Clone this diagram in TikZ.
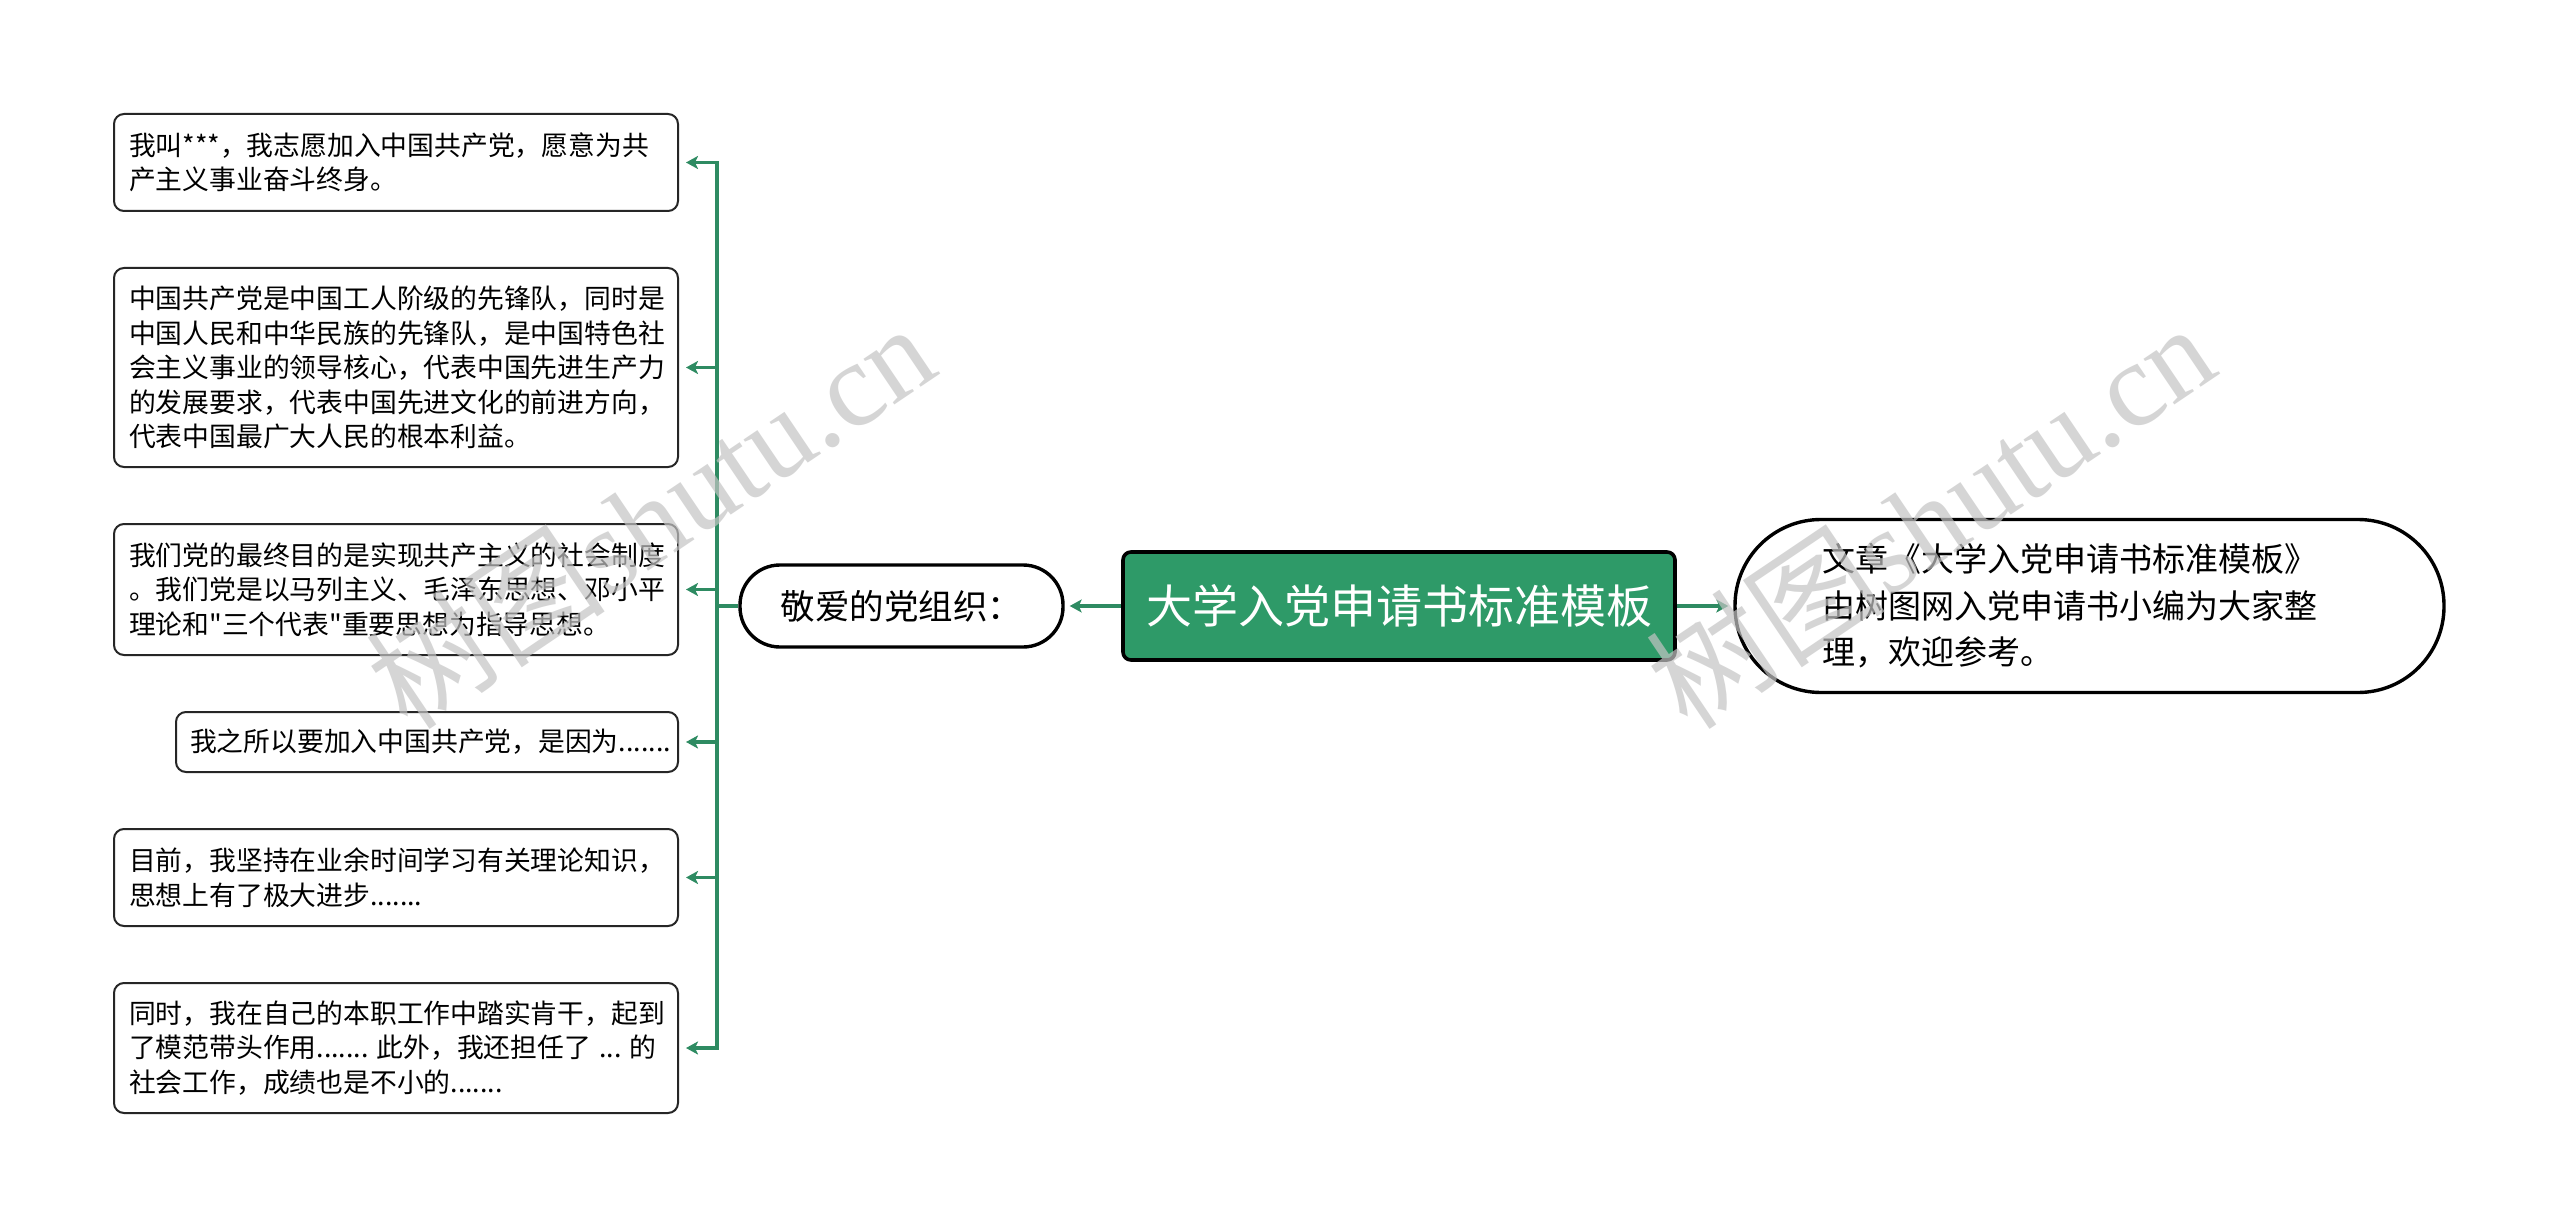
\documentclass[tikz,border=0pt]{standalone}
\usepackage{fontspec}
\setmainfont{Noto Sans CJK SC}
\newfontfamily\qfont{Noto Sans CJK SC}
\newfontfamily\wmserif{Liberation Serif}
\usetikzlibrary{arrows.meta}
\definecolor{cgreen}{HTML}{2E8B62}
\definecolor{mgreen}{HTML}{2E9A68}
\definecolor{wmgrey}{HTML}{C4C4C4}
\newcommand{\myspc}{\hspace{0.3em}}
\newcommand{\dq}{{\qfont"}}
\begin{document}
\begin{tikzpicture}[x=0.5pt,y=-0.5pt,
  leaf/.style={draw=black!85, line width=1pt, rounded corners=5pt, fill=white,
    align=left, text width=267pt, inner xsep=7.5pt, inner ysep=0pt,
    minimum width=282pt, font=\fontsize{13.4pt}{17.2pt}\selectfont, anchor=center},
  mainbox/.style={draw=black, line width=1.8pt, rounded corners=4pt, fill=mgreen,
    text=white, minimum width=276pt, minimum height=54pt, inner sep=0pt,
    font=\fontsize{23pt}{28pt}\selectfont},
  subbox/.style={draw=black, line width=1.7pt, rounded corners=20pt, fill=white,
    minimum width=161.5pt, minimum height=41pt, inner sep=0pt,
    font=\fontsize{17.25pt}{21pt}\selectfont},
  notebox/.style={draw=black, line width=1.7pt, rounded corners=43pt, fill=white,
    minimum width=354.5pt, minimum height=86.5pt, inner xsep=43.5pt, inner ysep=0pt,
    text width=267.5pt, align=left, font=\fontsize{16.5pt}{23.25pt}\selectfont},
  conn/.style={draw=cgreen, line width=1.6pt},
  arr/.style={conn, -{Stealth[length=6pt,width=6.5pt,inset=1.5pt]}, shorten >=3.5pt},
  wm/.style={text=wmgrey, opacity=0.7, rotate=34, inner sep=0pt}
]
\useasboundingbox (0,0) rectangle (2560,1230);
\fill[white] (0,0) rectangle (2560,1230);

% main and side nodes
\node[mainbox] (main) at (1399,606) {大学入党申请书标准模板};
\node[subbox] (org) at (901.5,606) {敬爱的党组织：};
\node[notebox] (note) at (2089.5,606) {文章《大学入党申请书标准模板》\\由树图网入党申请书小编为大家整\\理，欢迎参考。};

% leaf boxes
\node[leaf, minimum height=48.5pt] (b1) at (396,162.5) {我叫***，我志愿加入中国共产党，愿意为共\\产主义事业奋斗终身。};
\node[leaf, minimum height=99.5pt] (b2) at (396,367.5) {中国共产党是中国工人阶级的先锋队，同时是\\中国人民和中华民族的先锋队，是中国特色社\\会主义事业的领导核心，代表中国先进生产力\\的发展要求，代表中国先进文化的前进方向，\\代表中国最广大人民的根本利益。};
\node[leaf, minimum height=65.5pt] (b3) at (396,589.5) {我们党的最终目的是实现共产主义的社会制度\\。我们党是以马列主义、毛泽东思想、邓小平\\理论和\dq 三个代表\dq 重要思想为指导思想。};
\node[leaf, minimum height=30pt, minimum width=251pt, text width=237pt, inner xsep=7pt] (b4) at (427,742) {我之所以要加入中国共产党，是因为.......};
\node[leaf, minimum height=48.5pt] (b5) at (396,877.5) {目前，我坚持在业余时间学习有关理论知识，\\思想上有了极大进步.......};
\node[leaf, minimum height=65pt] (b6) at (396,1048) {同时，我在自己的本职工作中踏实肯干，起到\\\mbox{了模范带头作用.......\myspc 此外，我还担任了\myspc...\myspc 的}\\社会工作，成绩也是不小的.......};

% connectors
\draw[arr, shorten >=2.5pt] (main.west) -- (org.east);
\draw[arr, shorten >=2.5pt] (main.east) -- (note.west);
\coordinate (trunk) at (717,606);
\draw[conn] (org.west) -- (trunk);
\foreach \b in {b1,b2,b3,b4,b5,b6}{
  \draw[arr] (trunk) |- (\b.east);
}

% watermarks
\node[wm, font=\fontsize{60pt}{62pt}\selectfont] (wm1) at (650,515) {树图{\wmserif shutu.cn}};
\node[wm, font=\fontsize{60pt}{62pt}\selectfont] (wm2) at (1930,515) {树图{\wmserif shutu.cn}};
\end{tikzpicture}
\end{document}
